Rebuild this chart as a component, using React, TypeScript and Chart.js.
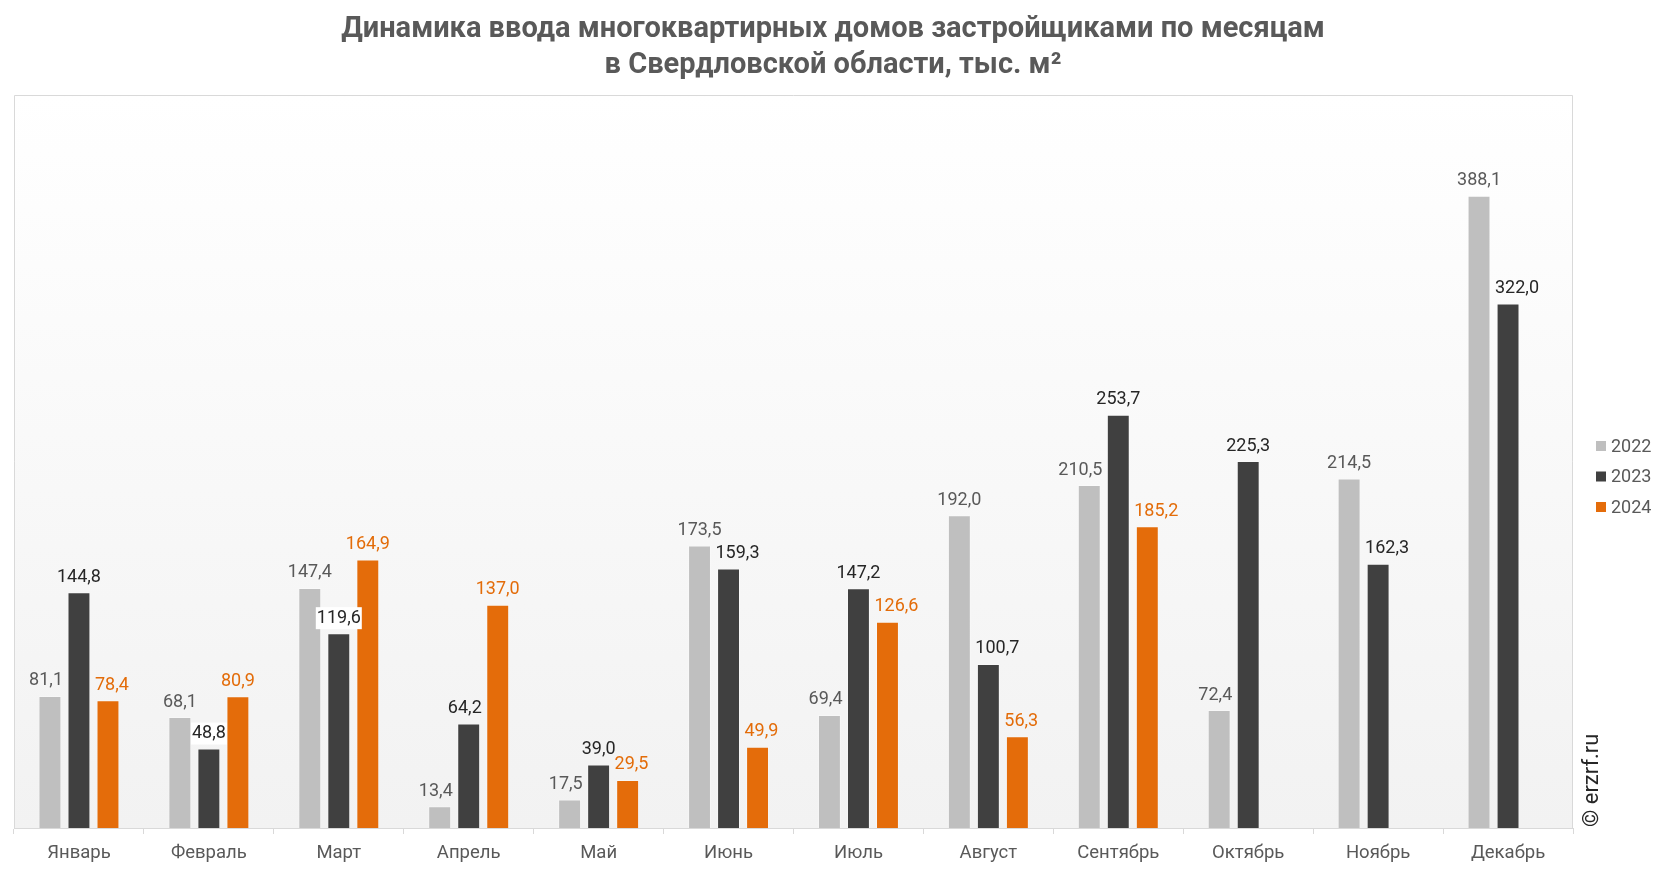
import React, { useEffect, useRef } from "react";
import { Chart, registerables } from "chart.js";

Chart.register(...registerables);

const titleLines = [
  "Динамика ввода многоквартирных домов застройщиками по месяцам",
  "в Свердловской области, тыс. м²",
];
const months = [
  "Январь", "Февраль", "Март", "Апрель", "Май", "Июнь",
  "Июль", "Август", "Сентябрь", "Октябрь", "Ноябрь", "Декабрь",
];
const seriesNames = ["2022", "2023", "2024"];
const values2022 = [81.1, 68.1, 147.4, 13.4, 17.5, 173.5, 69.4, 192.0, 210.5, 72.4, 214.5, 388.1];
const values2023 = [144.8, 48.8, 119.6, 64.2, 39.0, 159.3, 147.2, 100.7, 253.7, 225.3, 162.3, 322.0];
const values2024 = [78.4, 80.9, 164.9, 137.0, 29.5, 49.9, 126.6, 56.3, 185.2, null, null, null];
const watermark = "© erzrf.ru";

const barColors = ["#bfbfbf", "#404040", "#e46c0a"];
const labelColors = ["#595959", "#262626", "#e36c09"];
const FONT = "Roboto";

const fmt = (v: number) => v.toFixed(1).replace(".", ",");

const decorPlugin = {
  id: "decor",
  beforeDraw(chart: any) {
    const { ctx, chartArea: a } = chart;
    ctx.save();
    const g = ctx.createLinearGradient(0, a.top, 0, a.bottom);
    g.addColorStop(0, "#ffffff");
    g.addColorStop(1, "#f2f2f2");
    ctx.fillStyle = g;
    ctx.fillRect(a.left, a.top, a.right - a.left, a.bottom - a.top);
    ctx.strokeStyle = "#d9d9d9";
    ctx.lineWidth = 1;
    ctx.beginPath();
    ctx.moveTo(a.left + 0.5, a.bottom);
    ctx.lineTo(a.left + 0.5, a.top + 0.5);
    ctx.lineTo(a.right - 0.5, a.top + 0.5);
    ctx.lineTo(a.right - 0.5, a.bottom);
    ctx.stroke();
    ctx.restore();
  },
  afterDraw(chart: any) {
    const { ctx, width } = chart;
    ctx.save();
    // title
    ctx.fillStyle = "#595959";
    ctx.font = `bold 29px ${FONT}`;
    ctx.textAlign = "center";
    ctx.textBaseline = "alphabetic";
    ctx.fillText(titleLines[0], width / 2, 37);
    ctx.fillText(titleLines[1], width / 2, 73);
    // legend
    ctx.font = `18px ${FONT}`;
    ctx.textAlign = "left";
    ctx.textBaseline = "middle";
    chart.data.datasets.forEach((ds: any, i: number) => {
      const y = 446 + i * 30.5;
      ctx.fillStyle = ds.backgroundColor;
      ctx.fillRect(1596, y - 5, 10, 10);
      ctx.fillStyle = "#595959";
      ctx.fillText(ds.label, 1611, y + 1);
    });
    // watermark
    ctx.translate(1592, 827);
    ctx.rotate(-Math.PI / 2);
    ctx.fillStyle = "#262626";
    ctx.font = `22px ${FONT}`;
    ctx.textAlign = "left";
    ctx.textBaseline = "middle";
    ctx.fillText(watermark, 0, 0);
    ctx.restore();
  },
  afterDatasetsDraw(chart: any) {
    const { ctx } = chart;
    ctx.save();
    ctx.font = `18px ${FONT}`;
    ctx.textAlign = "center";
    ctx.textBaseline = "middle";
    const gap = 4.5;
    const dsets = chart.data.datasets;
    const metas = dsets.map((_: any, i: number) => chart.getDatasetMeta(i));
    const neighbor = (di: number, idx: number) => {
      if (di < 0 || di >= dsets.length) return null;
      const v = dsets[di].data[idx];
      if (v === null || v === undefined) return null;
      return metas[di].data[idx];
    };
    metas.forEach((meta: any, di: number) => {
      meta.data.forEach((el: any, idx: number) => {
        const v = dsets[di].data[idx];
        if (v === null || v === undefined) return;
        const text = fmt(v);
        const tw = ctx.measureText(text).width;
        let cx = el.x;
        const cy = el.y - 15;
        const bottom = cy + 8;
        const L = neighbor(di - 1, idx);
        const R = neighbor(di + 1, idx);
        const leftHit = L && L.y < bottom && L.x + L.width / 2 + gap > cx - tw / 2;
        const rightHit = R && R.y < bottom && R.x - R.width / 2 - gap < cx + tw / 2;
        let boxed = false;
        if (leftHit && rightHit) {
          boxed = true;
        } else if (leftHit) {
          cx = L.x + L.width / 2 + gap + tw / 2;
        } else if (rightHit) {
          cx = R.x - R.width / 2 - gap - tw / 2;
        }
        if (boxed) {
          ctx.fillStyle = "#ffffff";
          ctx.fillRect(cx - tw / 2 - 1, cy - 11, tw + 2, 22);
        }
        ctx.fillStyle = labelColors[di];
        ctx.fillText(text, cx, cy);
      });
    });
    ctx.restore();
  },
};

export default function App() {
  const ref = useRef<HTMLCanvasElement>(null);
  useEffect(() => {
    document.body.style.margin = "0";
    if (!ref.current) return;
    const data = [values2022, values2023, values2024];
    const chart = new Chart(ref.current, {
      type: "bar",
      data: {
        labels: months,
        datasets: seriesNames.map((name, i) => ({
          label: name,
          data: data[i],
          backgroundColor: barColors[i],
          borderColor: "rgba(255,255,255,0.3)",
          borderWidth: 1,
          categoryPercentage: 0.67,
          barPercentage: 0.79,
        })),
      },
      options: {
        responsive: false,
        animation: false,
        layout: { padding: { top: 95, left: 14, right: 93, bottom: 0 } },
        plugins: {
          legend: { display: false },
          title: { display: false },
          tooltip: { enabled: false },
        },
        scales: {
          x: {
            afterFit: (scale: any) => {
              scale.height = 44;
            },
            grid: {
              display: true,
              drawOnChartArea: false,
              drawTicks: true,
              tickLength: 6,
              color: "#d9d9d9",
              offset: true,
            },
            border: { display: true, color: "#d9d9d9", width: 1 },
            ticks: {
              color: "#595959",
              font: { family: FONT, size: 18.5 },
              padding: 8,
            },
          },
          y: { display: false, min: 0, max: 450 },
        },
      },
      plugins: [decorPlugin],
    });
    return () => chart.destroy();
  }, []);
  return (
    <div style={{ width: 1666, height: 872, background: "#ffffff" }}>
      <canvas ref={ref} width={1666} height={872} />
    </div>
  );
}
